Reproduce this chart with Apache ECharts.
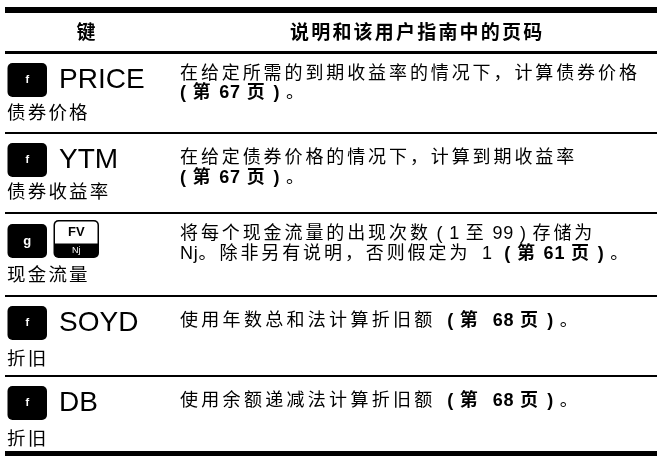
<!DOCTYPE html>
<html><head><meta charset="utf-8">
<script src="https://cdn.jsdelivr.net/npm/echarts@6/dist/echarts.min.js"></script>
<style>html,body{margin:0;padding:0;background:#fff}#c{width:659px;height:456px}</style>
</head><body><div id="c"></div>
<script>
// ---- data ----
const headers = ['键', '说明和该用户指南中的页码'];
const keyPrefix = ['f', 'f', 'g', 'f', 'f'];
const keyLabels = ['PRICE', 'YTM', 'FV|Nj', 'SOYD', 'DB'];
const subLabels = ['债券价格', '债券收益率', '现金流量', '折旧', '折旧'];
const descLines = [
  ['在给定所需的到期收益率的情况下，计算债券价格', '**( 第 67 页 )** 。'],
  ['在给定债券价格的情况下，计算到期收益率', '**( 第 67 页 )** 。'],
  ['将每个现金流量的出现次数 ( 1 至 99 ) 存储为', 'Nj。除非另有说明，否则假定为  1  **( 第 61 页 )** 。'],
  ['使用年数总和法计算折旧额  **( 第  68 页 )** 。'],
  ['使用余额递减法计算折旧额  **( 第  68 页 )** 。']
];

// ---- layout ----
const FAM = "'Liberation Sans', Arial, 'Noto Sans CJK SC', sans-serif";
const rules = [[7, 6], [51, 3], [132, 2], [212, 2], [295, 2], [375, 2], [451, 6]];
const rowLayout = [
  { box: 63, desc: [74.5, 93.5], sp: [2.9, 2.9], sub: 113.5 },
  { box: 143, desc: [158.5, 178.5], sp: [2.9, 2.9], sub: 193 },
  { box: 224, desc: [234.5, 254], sp: [2.9, 2.9], sub: 276 },
  { box: 306, desc: [321.5], sp: [3.3], sub: 360 },
  { box: 386, desc: [401.5], sp: [3.3], sub: 440 }
];

const cvs = document.createElement('canvas');
const ctx = cvs.getContext('2d');
function mw(ch, font) { ctx.font = font; return ctx.measureText(ch).width; }
function isWide(ch) { return ch.charCodeAt(0) >= 0x2E80; }

const g = [];
function txt(x, y, s, font, fill, align) {
  g.push({ type: 'text', x: x, y: y, silent: true,
    style: { text: s, font: font, fill: fill || '#000', align: align || 'left', verticalAlign: 'middle',
             textAlign: align || 'left', textVerticalAlign: 'middle' } });
}
function spaced(str, x, y, size, spacing, weight, latinSpacing) {
  const parts = str.split('**');
  const ls = latinSpacing == null ? 0.6 : latinSpacing;
  let cx = x;
  parts.forEach((p, i) => {
    const w = (i % 2 === 1) ? 'bold' : (weight || 'normal');
    const font = w + ' ' + size + 'px ' + FAM;
    for (const ch of p) {
      if (ch !== ' ') txt(cx, y, ch, font);
      cx += mw(ch, font) + (isWide(ch) ? spacing : ls);
    }
  });
  return cx;
}

// white background
g.push({ type: 'rect', shape: { x: 0, y: 0, width: 659, height: 456 }, style: { fill: '#fff' }, silent: true });

// rules
rules.forEach(r => g.push({ type: 'rect', shape: { x: 5, y: r[0], width: 652, height: r[1] }, style: { fill: '#000' }, silent: true }));

// headers
txt(86, 33.5, headers[0], 'bold 19px ' + FAM, '#000', 'center');
spaced(headers[1], 290, 33.5, 19, 2.2, 'bold');

// rows
rowLayout.forEach((L, i) => {
  g.push({ type: 'rect', shape: { x: 7.5, y: L.box, width: 39.5, height: 34, r: 5 }, style: { fill: '#000' }, silent: true });
  const pf = keyPrefix[i];
  txt(27.3, L.box + 17, pf, 'bold ' + (pf === 'g' ? 13 : 11) + 'px ' + FAM, '#fff', 'center');
  const kl = keyLabels[i];
  if (kl.indexOf('|') >= 0) {
    const [top, bot] = kl.split('|');
    const bx = 53.5, by = L.box - 4, bw = 45.5, bh = 38;
    g.push({ type: 'rect', shape: { x: bx, y: by, width: bw, height: bh, r: 5 }, style: { fill: '#000' }, silent: true });
    g.push({ type: 'rect', shape: { x: bx + 1.5, y: by + 1.5, width: bw - 3, height: 22, r: [4, 4, 0, 0] }, style: { fill: '#fff' }, silent: true });
    txt(bx + bw / 2, by + 12, top, 'bold 13px ' + FAM, '#000', 'center');
    txt(bx + bw / 2, by + 31, bot, 'normal 9px ' + FAM, '#fff', 'center');
  } else {
    txt(59, L.box + 17.5, kl, 'normal 28px ' + FAM, '#000', 'left');
  }
  spaced(subLabels[i], 7, L.sub, 18.5, 2.2, 'normal');
  descLines[i].forEach((line, j) => spaced(line, 180, L.desc[j], 18, L.sp[j], 'normal', 0.8));
});

const chart = echarts.init(document.getElementById('c'), null, { renderer: 'canvas', width: 659, height: 456 });
chart.setOption({ animation: false, backgroundColor: '#fff', graphic: { elements: g } });
</script></body></html>
